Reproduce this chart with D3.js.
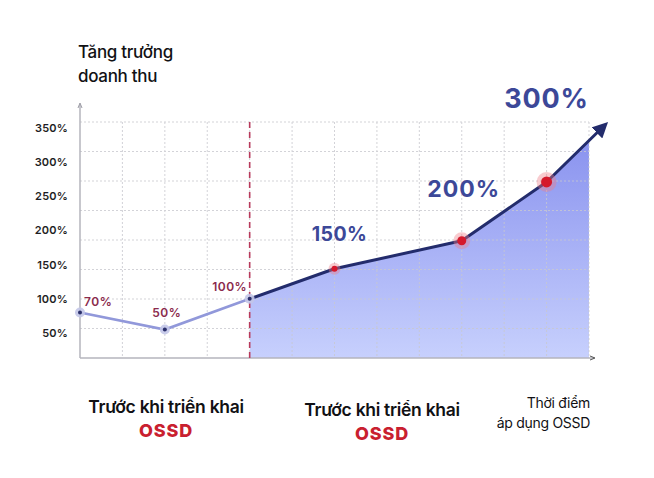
<!DOCTYPE html>
<html><head><meta charset="utf-8">
<script src="https://cdn.jsdelivr.net/npm/d3@7"></script>
<style>body{margin:0;background:#fff}svg{display:block}</style>
</head><body>
<svg id="c" width="654" height="478"></svg>
<script>
// ---- data ----
const yTickValues = [50, 100, 150, 200, 250, 300, 350];
const yTickLabels = ["50%", "100%", "150%", "200%", "250%", "300%", "350%"];
const beforeIdx = [0, 2, 4];          // x positions (grid steps) before OSSD
const beforeVals = [80, 55, 100];      // plotted values
const beforeLabels = ["70%", "50%", "100%"];
const afterIdx = [4, 6, 9, 11, 12.37]; // after OSSD (last = arrow tip)
const afterVals = [100, 144, 185, 271, 354];
const afterLabels = [null, "150%", "200%", "300%", null];
const xLabels1 = ["Trước khi triển khai", "OSSD"];
const xLabels2 = ["Trước khi triển khai", "OSSD"];
const xLabels3 = ["Thời điểm", "áp dụng OSSD"];
const titleLines = ["Tăng trưởng", "doanh thu"];

(function () {
// ---- layout ----
const svg = d3.select("#c");
const pl = 80, pr = 589, pb = 358, pt = 122;
const x = d3.scaleLinear().domain([0, 12]).range([pl, pr]);
const y = d3.scaleLinear().domain([50, 350]).range([333, 128]);
const gy = d3.scaleLinear().domain([0, 8]).range([pb, pt]);

const defs = svg.append("defs");
const grad = defs.append("linearGradient").attr("id", "g")
  .attr("gradientUnits", "userSpaceOnUse").attr("x1", 0).attr("x2", 0).attr("y1", 130).attr("y2", pb);
grad.append("stop").attr("offset", 0).attr("stop-color", "#8790ee");
grad.append("stop").attr("offset", 1).attr("stop-color", "#c7d0fd");
defs.append("clipPath").attr("id", "clip").append("rect")
  .attr("x", x(4)).attr("y", 0).attr("width", pr - x(4)).attr("height", pb);
defs.append("marker").attr("id", "arr").attr("viewBox", "0 0 10 10")
  .attr("refX", 7).attr("refY", 5).attr("markerWidth", 5.2).attr("markerHeight", 5.2)
  .attr("markerUnits", "strokeWidth").attr("orient", "auto")
  .append("path").attr("d", "M0,0 L10,5 L0,10 Z").attr("fill", "#232c6c");

const after = afterIdx.map((d, i) => ({ i: d, v: afterVals[i], l: afterLabels[i] }));
const before = beforeIdx.map((d, i) => ({ i: d, v: beforeVals[i], l: beforeLabels[i] }));
const curve = d3.curveLinear;

// area
const area = d3.area().x(d => x(d.i)).y0(pb).y1(d => y(d.v)).curve(curve);
svg.append("path").datum(after).attr("d", area).attr("fill", "url(#g)").attr("clip-path", "url(#clip)");

// grid
const gridG = svg.append("g").attr("stroke", "#c9c9cf").attr("stroke-width", 1).attr("stroke-dasharray", "2,2").attr("opacity", 0.8);
d3.range(1, 9).forEach(k => gridG.append("line").attr("x1", pl).attr("x2", pr).attr("y1", gy(k)).attr("y2", gy(k)));
d3.range(1, 13).forEach(k => gridG.append("line").attr("x1", x(k)).attr("x2", x(k)).attr("y1", pt).attr("y2", pb));

// axes
const axG = svg.append("g").attr("stroke", "#b4b4bc").attr("stroke-width", 1.5).attr("fill", "none");
axG.append("line").attr("x1", pl).attr("x2", pl).attr("y1", 105).attr("y2", pb);
axG.append("line").attr("x1", pl).attr("x2", 594).attr("y1", pb).attr("y2", pb);
svg.append("path").attr("d", `M${pl-2},108 L${pl},103 L${pl+2},108`).attr("stroke", "#9a9aa4").attr("fill", "none");
svg.append("path").attr("d", `M590,${pb-2} L595,${pb} L590,${pb+2}`).attr("stroke", "#555").attr("fill", "none");

// y tick labels
svg.append("g").selectAll("text").data(yTickValues).join("text")
  .attr("x", 68).attr("y", d => y(d)).attr("dy", "0.35em").attr("text-anchor", "end")
  .attr("font-family", "Inter").attr("font-weight", 600).attr("font-size", 11)
  .attr("letter-spacing", 0.2).attr("fill", "#1e1e24")
  .text((d, i) => yTickLabels[i]);

// dashed divider
svg.append("line").attr("x1", x(4)).attr("x2", x(4)).attr("y1", pt).attr("y2", pb)
  .attr("stroke", "#b83a5c").attr("stroke-width", 1.6).attr("stroke-dasharray", "6,4");

// lines
const line = d3.line().x(d => x(d.i)).y(d => y(d.v));
svg.append("path").datum(before).attr("d", line).attr("fill", "none").attr("stroke", "#9198da").attr("stroke-width", 2.6);
svg.append("path").datum(after).attr("d", line.curve(curve)).attr("fill", "none")
  .attr("stroke", "#232c6c").attr("stroke-width", 3).attr("stroke-linejoin", "round").attr("marker-end", "url(#arr)");

// points
before.forEach(d => {
  svg.append("circle").attr("cx", x(d.i)).attr("cy", y(d.v)).attr("r", 5).attr("fill", "#c3c6e8").attr("opacity", 0.9);
  svg.append("circle").attr("cx", x(d.i)).attr("cy", y(d.v)).attr("r", 2).attr("fill", "#2a2f6a");
});
const redSizes = [null, [3, 6], [4.5, 8.5], [5.5, 10], null];
after.forEach((d, k) => {
  if (!redSizes[k]) return;
  svg.append("circle").attr("cx", x(d.i)).attr("cy", y(d.v)).attr("r", redSizes[k][1]).attr("fill", "#ee7c86").attr("opacity", 0.4);
  svg.append("circle").attr("cx", x(d.i)).attr("cy", y(d.v)).attr("r", redSizes[k][0]).attr("fill", "#d4192c");
});

// value labels
const smallLab = [[4, -7, "start"], [2, -13, "middle"], [-20, -8, "middle"]];
before.forEach((d, k) => {
  svg.append("text").attr("x", x(d.i) + smallLab[k][0]).attr("y", y(d.v) + smallLab[k][1])
    .attr("text-anchor", smallLab[k][2]).attr("font-family", "Inter").attr("font-weight", 600)
    .attr("font-size", 12).attr("letter-spacing", 0.5).attr("fill", "#8b2a4c").text(d.l);
});
const bigLab = [null, [5, -28, 19.5, 0.4], [2, -44, 23, 1], [0, -74, 27, 0.8], null];
after.forEach((d, k) => {
  if (!bigLab[k]) return;
  svg.append("text").attr("x", x(d.i) + bigLab[k][0]).attr("y", y(d.v) + bigLab[k][1])
    .attr("text-anchor", "middle").attr("font-family", "Inter").attr("font-weight", 700)
    .attr("font-size", bigLab[k][2]).attr("letter-spacing", bigLab[k][3]).attr("fill", "#3c4898").text(d.l);
});

// title
svg.append("text").attr("font-family", "Inter").attr("font-weight", 500).attr("font-size", 17).attr("fill", "#111114")
  .attr("letter-spacing", -0.3)
  .selectAll("tspan").data(titleLines).join("tspan").attr("x", 78).attr("y", (d, i) => 58 + i * 24).text(d => d);

// bottom labels
function catLabel(cx, yb, lines) {
  svg.append("text").attr("x", cx).attr("y", yb).attr("text-anchor", "middle")
    .attr("font-family", "Inter").attr("font-weight", 600).attr("font-size", 17.5).attr("letter-spacing", -0.3)
    .attr("fill", "#111114").text(lines[0]);
  svg.append("text").attr("x", cx).attr("y", yb + 24).attr("text-anchor", "middle")
    .attr("font-family", "Inter").attr("font-weight", 800).attr("font-size", 18).attr("letter-spacing", 0.8)
    .attr("fill", "#c9202f").text(lines[1]);
}
catLabel(166, 413, xLabels1);
catLabel(382, 416, xLabels2);
svg.append("text").attr("font-family", "Inter").attr("font-size", 14).attr("fill", "#111114").attr("text-anchor", "end")
  .attr("letter-spacing", -0.3)
  .selectAll("tspan").data(xLabels3).join("tspan").attr("x", 590).attr("y", (d, i) => 408 + i * 20).text(d => d);
})();
</script>
</body></html>
